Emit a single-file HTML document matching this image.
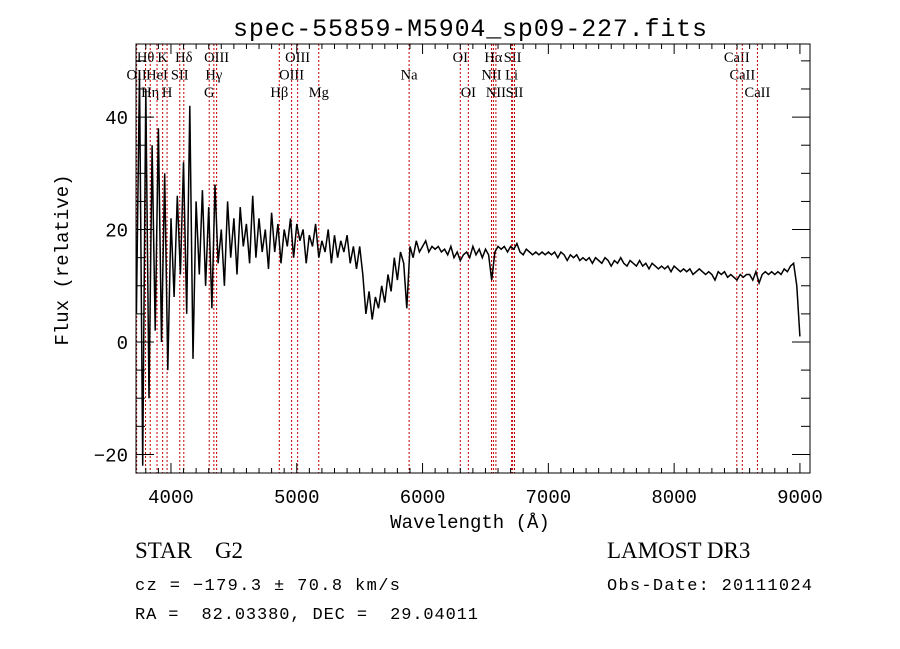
<!DOCTYPE html>
<html><head><meta charset="utf-8">
<style>
html,body{margin:0;padding:0;background:#fff;}
svg{display:block;}
text{font-family:"Liberation Mono",monospace;fill:#000;white-space:pre;}
.ser{font-family:"Liberation Serif",serif;}
</style></head>
<body>
<svg id="chart" width="900" height="649" viewBox="0 0 900 649">
<text x="470" y="36" font-size="25" text-anchor="middle" textLength="474">spec-55859-M5904_sp09-227.fits</text>
<g id="lines"></g>
<g id="spec"></g>
<g id="axes"></g>
<text x="470" y="528" font-size="19" text-anchor="middle">Wavelength (Å)</text>
<text x="0" y="0" font-size="19" text-anchor="middle" transform="translate(68,260) rotate(-90)">Flux (relative)</text>
<text x="135" y="558" font-size="23" class="ser" xml:space="preserve">STAR    G2</text>
<text x="607" y="558" font-size="23" class="ser">LAMOST DR3</text>
<text x="135" y="590" font-size="17" textLength="265" xml:space="preserve">cz = −179.3 ± 70.8 km/s</text>
<text x="607" y="590" font-size="17" textLength="205">Obs-Date: 20111024</text>
<text x="135" y="619" font-size="17" textLength="343" xml:space="preserve">RA =  82.03380, DEC =  29.04011</text>
</svg>
<script>
const waveStart = 3725;
const waveStep = 25;
const flux = [
5,48,-22,45,-10,35,2,38,0,30,-5,22,
8,26,12,32,5,42,-3,25,12,27,10,24,
6,28,14,20,10,25,15,22,12,24,17,21,
14,26,15,22,16,20,13,23,16,21,14,20,
17,22,15,21,18,20,14,19,17,21,15,18,
16,20,14,19,15,18,16,19,14,17,13,17,
12,5,9,4,8,6,10,7,12,9,15,11,
16,14,6,17,15,18,16,17,18,16,17,16.5,
17,16,16.5,15.5,17,15,16,14.5,15.5,16,15,17,
15.5,16.5,15,16.5,15.5,11,16,17,16.5,17,16,17,
16.5,17.5,16,15.5,16.5,16,15.5,16,15.5,16,15.5,16,
15.5,16,15,16,15.5,14.5,15.5,15,15.5,14.5,15,14.5,
15,14,15,14.5,14,15,14.5,13.5,14.5,14,15,14,
13.5,14.5,14,13.5,14.5,13.5,14,13,14,13.5,13,13.5,
13,13.5,12.5,13.5,13,12.5,13,12.5,13,12,12.5,13,
12.5,12,12.5,12,11,12.5,12,12.5,11.5,12,11.5,11,
12,11.5,12,12,11,12.5,10.5,12,12.5,12,12.5,12,
12.5,12,13,12.5,13.5,14,10,1
];
const lineWaves = [3727,3798,3835,3889,3934,3969,4070,4102,4304,4341,4363,4861,4959,5007,5175,5893,6300,6364,6548,6563,6583,6708,6716,6731,8498,8542,8662];
const lineLabels = ["OII","Hθ","Hη","HeI","K","H","SII","Hδ","G","Hγ","OIII","Hβ","OIII","OIII","Mg","Na","OI","OI","NII","Hα","NII","Li","SII","SII","CaII","CaII","CaII"];
const lineRows = [1,0,2,1,0,2,1,0,2,1,0,2,1,0,2,1,0,2,1,0,2,1,0,2,0,1,2];
const xTicks = [4000,5000,6000,7000,8000,9000];
const yTicks = [-20,0,20,40];

const L=136,R=810,T=44,B=473;
const xmin=3722, xmax=9080, ymin=-23.3, ymax=53;
const X=w=>L+(w-xmin)/(xmax-xmin)*(R-L);
const Y=f=>B-(f-ymin)/(ymax-ymin)*(B-T);
const NS="http://www.w3.org/2000/svg";
function mk(tag,attrs,parent){const e=document.createElementNS(NS,tag);for(const k in attrs)e.setAttribute(k,attrs[k]);parent.appendChild(e);return e;}

const gl=document.getElementById('lines');
lineWaves.forEach((w,i)=>{
  const ln=mk('line',{x1:X(w),x2:X(w),y1:T,y2:B,stroke:'#c00000','stroke-width':1,'stroke-dasharray':'2,2'},gl);
  
  
  const t=mk('text',{x:X(w),y:62+lineRows[i]*17.5,'font-size':14.5,'text-anchor':'middle',class:'ser'},gl);
  t.textContent=lineLabels[i];
  
  
});

const gs=document.getElementById('spec');
const pts=flux.map((f,i)=>X(waveStart+i*waveStep).toFixed(1)+','+Y(f).toFixed(1)).join(' ');
const pl=mk('polyline',{points:pts,fill:'none',stroke:'#000','stroke-width':1.5},gs);



const ga=document.getElementById('axes');
const fr=mk('rect',{x:L,y:T,width:R-L,height:B-T,fill:'none',stroke:'#000','stroke-width':1},ga);


for(let w=3800;w<=9000;w+=100){
  const maj=w%1000===0, len=maj?10:5;
  mk('line',{x1:X(w),x2:X(w),y1:B,y2:B-len,stroke:'#000'},ga);
  mk('line',{x1:X(w),x2:X(w),y1:T,y2:T+len,stroke:'#000'},ga);
}
xTicks.forEach(w=>{
  const t=mk('text',{x:X(w),y:503,'font-size':19,'text-anchor':'middle'},ga);
  t.textContent=w;
  
  
});
for(let f=-20;f<=50;f+=5){
  const maj=f%20===0, len=maj?18:9;
  mk('line',{x1:L,x2:L+len,y1:Y(f),y2:Y(f),stroke:'#000'},ga);
  mk('line',{x1:R,x2:R-len,y1:Y(f),y2:Y(f),stroke:'#000'},ga);
}
yTicks.forEach(f=>{
  const t=mk('text',{x:128,y:Y(f)+7,'font-size':19,'text-anchor':'end'},ga);
  t.textContent=f<0?'−'+Math.abs(f):f;
  
  
});
</script>
</body></html>
